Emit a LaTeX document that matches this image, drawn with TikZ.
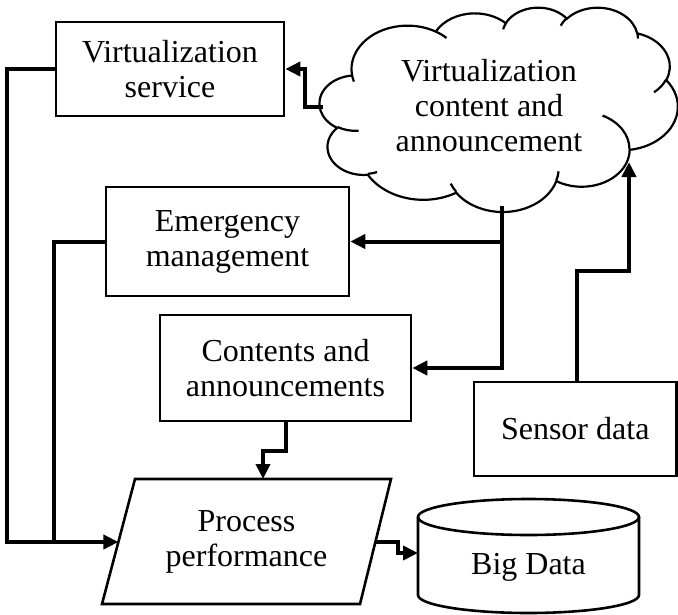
\documentclass[tikz,border=0pt]{standalone}
\usepackage{fontspec}
\setmainfont{Liberation Serif}
\usetikzlibrary{arrows.meta}
\begin{document}
\begin{tikzpicture}[x=1pt,y=-1pt,
  box/.style={draw, line width=2.6pt, inner sep=0pt},
  lbl/.style={align=center, font=\fontsize{32}{35}\selectfont, inner sep=0pt},
  shapeline/.style={line width=2.6pt, line join=miter},
  cloudline/.style={line width=2.2pt},
  link/.style={line width=4pt},
  flow/.style={link, -{Triangle[length=15pt,width=14pt]}},
  declare function={pang(\rx,\ry,\an)=atan2(\rx*sin(\an),\ry*cos(\an));}]
\useasboundingbox (0,0) rectangle (678,614);

% ---- cloud outline (puffs built from elliptical arcs, 432 x 432 design grid)
\begin{scope}[shift={(319.7,7)}, xscale=358/432, yscale=-204.3/432]
  \draw[cloudline, fill=white] (39pt,143.7pt)
    foreach \w/\h/\s/\d in {
      67.53/91.90/-190.48748/123.78053,
      53.33/72.67/-144.10238/89.94523,
      43.65/59.45/-145.80792/99.72302,
      48.57/65.95/-130.98607/117.24173,
      53.33/72.73/-78.70888/109.02692,
      67.75/92.20/-46.26725/130.26900,
      57.85/78.67/0.62502/114.03333,
      67.52/92.15/22.45160/115.17255,
      77.20/105.43/66.24263/75.71102,
      43.60/59.18/-274.94208/146.73557,
      43.45/59.45/-246.82850/152.51885}
    { arc[start angle={pang(\w,\h,\s)},
          delta angle={mod(pang(\w,\h,\s+\d)-pang(\w,\h,\s)+720,360)},
          x radius=\w pt, y radius=\h pt] } -- cycle;
  % inner creases of the puffs
  \draw[cloudline]
    foreach \x/\y/\w/\h/\s/\d in {
      46.93/261.77/43.45/59.45/86.74200/26.42950,
      69.28/348.99/43.60/59.18/73.61047/11.44747,
      164.78/390.90/67.52/92.15/137.62415/14.08110,
      288.27/347.51/67.53/91.90/6.45327/15.99835,
      341.29/229.54/57.85/78.67/-70.29235/70.91737,
      417.98/153.54/53.33/72.73/30.31803/27.75150,
      383.24/54.26/48.57/65.95/-13.74433/14.85890,
      290.78/39.52/48.57/65.95/-149.18145/18.19537,
      221.41/47.20/43.65/59.45/-163.49427/17.68635,
      140.00/51.92/67.53/91.90/-66.70695/12.31935,
      41.27/157.89/67.53/91.90/157.65435/11.85817}
    { (\x pt,\y pt) arc[start angle={pang(\w,\h,\s)},
          delta angle={mod(pang(\w,\h,\s+\d)-pang(\w,\h,\s)+720,360)},
          x radius=\w pt, y radius=\h pt] };
\end{scope}
\node[lbl] (cl) at (489,106) {Virtualization\\content and\\announcement};

% ---- boxes
\node[box, lbl, minimum width=228, minimum height=94] (vs) at (170,69) {Virtualization\\service};
\node[box, lbl, minimum width=243, minimum height=109] (em) at (227.5,241.5) {Emergency\\management};
\node[box, lbl, minimum width=251, minimum height=106] (ca) at (285.5,368) {Contents and\\announcements};
\node[box, lbl, minimum width=202.5, minimum height=94] (sd) at (575.25,429) {Sensor data};

% ---- parallelogram
\coordinate (pBL) at (102,604);
\coordinate (pTL) at (135,479);
\coordinate (pTR) at (391,479);
\coordinate (pBR) at (360,604);
\draw[shapeline] (pBL) -- (pTL) -- (pTR) -- (pBR) -- cycle;
\node[lbl] (pp) at (246.5,542) {Process\\performance};

% ---- cylinder
\draw[shapeline, fill=white] (418,517) -- (418,595)
  arc[start angle=180, end angle=360, x radius=110.5pt, y radius=18pt] -- (639,517);
\draw[shapeline] (528.5,517) ellipse [x radius=110.5pt, y radius=18pt];
\node[lbl] (bd) at (528.5,567) {Big Data};

% ---- connector ends
\coordinate (clL) at (323,107);
\coordinate (clB) at (502,206);
\coordinate (clS) at (629,162);
\coordinate (sdT) at (577,382);
\coordinate (ppL) at (118.4,542);
\coordinate (ppR) at (375.4,542);
\coordinate (ppT) at (263,479);
\coordinate (bdL) at (418,553);
\coordinate (jn) at (54,542);

% ---- connectors
\draw[flow] (vs.west) -- ++(-48,0) |- (ppL);
\draw[link] (em.west) -| (jn);
\draw[flow] (clL) -- ++(-18,0) |- (vs.east);
\draw[flow] (clB) |- (ca.east);
\draw[flow] (clB |- em.east) -- (em.east);
\draw[flow] (sdT) -- ++(0,-111) -| (clS);
\draw[flow] (ca.south) -- ++(0,29) -| (ppT);
\draw[flow] (ppR) -- ++(23,0) |- (bdL);
\end{tikzpicture}
\end{document}
